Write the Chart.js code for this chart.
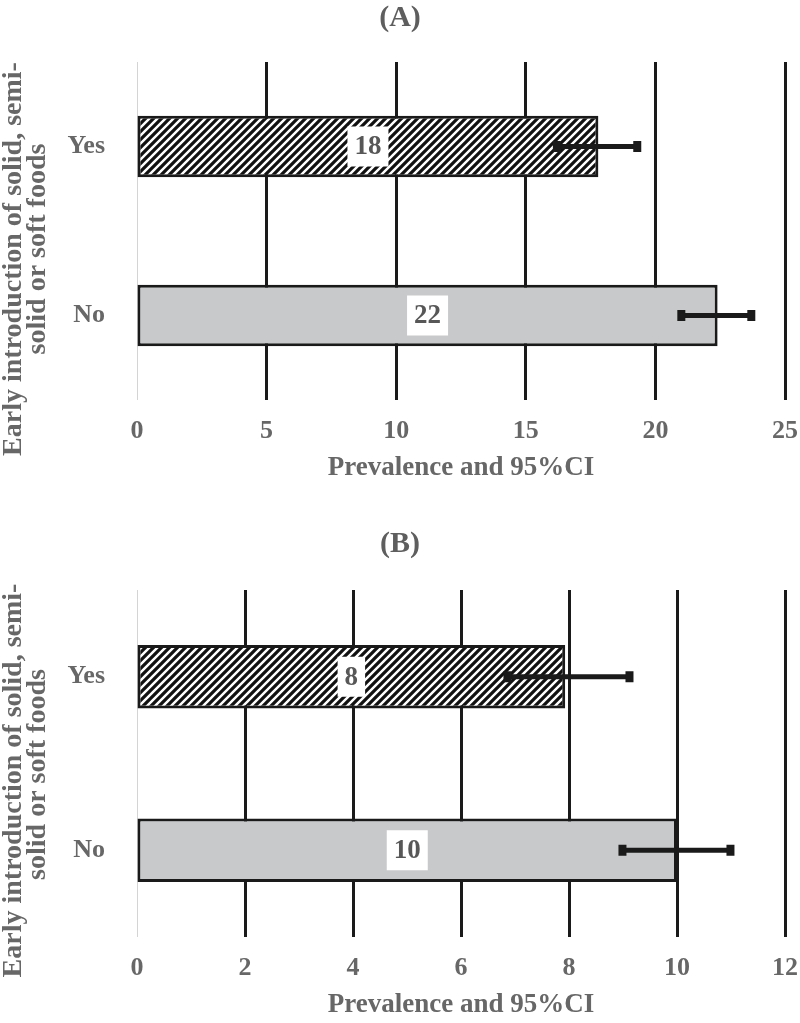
<!DOCTYPE html>
<html><head><meta charset="utf-8">
<script src="https://cdn.jsdelivr.net/npm/chart.js@4.4.0/dist/chart.umd.min.js"></script>
<style>
html,body{margin:0;padding:0;background:#fff;}
#wrap{position:relative;width:800px;height:1023px;overflow:hidden;}
.box{position:absolute;left:0;width:800px;}
</style></head><body>
<div id="wrap">
<div class="box" style="top:0;height:505px"><canvas id="cA"></canvas></div>
<div class="box" style="top:505px;height:518px"><canvas id="cB"></canvas></div>
</div>
<script>
// ---- data ----
const categories = ['Yes', 'No'];
const yAxisTitle = ['Early introduction of solid, semi-', 'solid or soft foods'];
const xAxisTitle = 'Prevalence and 95%CI';

const titleA = '(A)';
const prevalenceA = [17.8, 22.4];
const lowerA = [16.2, 21.0];
const upperA = [19.3, 23.7];
const labelsA = ['18', '22'];
const xTicksA = [0, 5, 10, 15, 20, 25];

const titleB = '(B)';
const prevalenceB = [7.93, 10.0];
const lowerB = [6.86, 8.99];
const upperB = [9.12, 10.99];
const labelsB = ['8', '10'];
const xTicksB = [0, 2, 4, 6, 8, 10, 12];

// ---- styling ----
const SERIF = "'Liberation Serif', 'Times New Roman', serif";
const TXT = '#676767';
const INK = '#1a1a1a';

function makeHatch() {
  const s = 8, c = document.createElement('canvas');
  c.width = s; c.height = s;
  const g = c.getContext('2d');
  g.fillStyle = '#fff'; g.fillRect(0, 0, s, s);
  g.strokeStyle = '#111'; g.lineWidth = 3.2; g.lineCap = 'square';
  g.beginPath();
  g.moveTo(0, s); g.lineTo(s, 0);
  g.moveTo(-2, 2); g.lineTo(2, -2);
  g.moveTo(s - 2, s + 2); g.lineTo(s + 2, s - 2);
  g.stroke();
  return g.createPattern(c, 'repeat');
}

const extrasPlugin = {
  id: 'extras',
  afterDatasetsDraw(chart, args, opts) {
    const ctx = chart.ctx;
    const xs = chart.scales.x;
    const meta = chart.getDatasetMeta(0);
    // data labels
    meta.data.forEach((bar, i) => {
      const cx = (bar.base + bar.x) / 2;
      const cy = bar.y;
      ctx.save();
      ctx.font = 'bold 27px ' + SERIF;
      const w = ctx.measureText(opts.labels[i]).width + 14;
      const h = 40;
      ctx.fillStyle = '#ffffff';
      ctx.fillRect(cx - w / 2, cy - h / 2, w, h);
      ctx.fillStyle = '#575757';
      ctx.textAlign = 'center';
      ctx.textBaseline = 'middle';
      ctx.fillText(opts.labels[i], cx, cy + 1);
      ctx.restore();
    });
    // error bars
    meta.data.forEach((bar, i) => {
      const y = bar.y;
      const x1 = xs.getPixelForValue(opts.lower[i]);
      const x2 = xs.getPixelForValue(opts.upper[i]);
      ctx.save();
      ctx.strokeStyle = INK;
      ctx.fillStyle = INK;
      ctx.lineWidth = 5;
      ctx.beginPath();
      ctx.moveTo(x1, y); ctx.lineTo(x2, y);
      ctx.stroke();
      ctx.fillRect(x1 - 4, y - 5.5, 8, 11);
      ctx.fillRect(x2 - 4, y - 5.5, 8, 11);
      ctx.restore();
    });
  },
  afterDraw(chart, args, opts) {
    const ctx = chart.ctx;
    const ca = chart.chartArea;
    const mid = (ca.top + ca.bottom) / 2;
    ctx.save();
    ctx.font = 'bold 28px ' + SERIF;
    ctx.fillStyle = TXT;
    ctx.textAlign = 'center';
    ctx.textBaseline = 'middle';
    opts.yTitle.forEach((line, k) => {
      ctx.save();
      ctx.translate(opts.yTitleX[k], mid + opts.yTitleOffset[k]);
      ctx.rotate(-Math.PI / 2);
      ctx.fillText(line, 0, 0);
      ctx.restore();
    });
    ctx.restore();
  }
};

function buildChart(id, cfg) {
  const ticks = cfg.ticks;
  return new Chart(document.getElementById(id), {
    type: 'bar',
    data: {
      labels: categories,
      datasets: [{
        data: cfg.values,
        backgroundColor: [makeHatch(), '#c8c9cb'],
        borderColor: INK,
        borderWidth: 3,
        borderSkipped: false,
        barPercentage: 0.365,
        categoryPercentage: 1
      }]
    },
    options: {
      indexAxis: 'y',
      responsive: true,
      maintainAspectRatio: false,
      animation: false,
      layout: { padding: { left: 0, right: 0, top: 0, bottom: cfg.padBottom } },
      plugins: {
        legend: { display: false },
        tooltip: { enabled: false },
        title: {
          display: true,
          text: cfg.title,
          color: '#5e5e5e',
          font: { family: SERIF, size: 30, weight: 'bold', lineHeight: 1.2 },
          padding: { top: cfg.titleTop, bottom: cfg.titleBottom }
        },
        extras: {
          labels: cfg.labels, lower: cfg.lower, upper: cfg.upper,
          yTitle: yAxisTitle, yTitleX: [14, 38], yTitleOffset: cfg.yTitleOffset
        }
      },
      scales: {
        x: {
          type: 'linear',
          min: ticks[0],
          max: ticks[ticks.length - 1],
          ticks: {
            stepSize: ticks[1] - ticks[0],
            color: TXT,
            padding: 16,
            font: { family: SERIF, size: 26, weight: 'bold', lineHeight: 1.2 }
          },
          grid: {
            drawTicks: false,
            color: c => (c.tick && c.tick.value === 0) ? '#d4d4d4' : INK,
            lineWidth: c => (c.tick && c.tick.value === 0) ? 1 : 3
          },
          border: { display: false },
          title: {
            display: true,
            text: xAxisTitle,
            color: TXT,
            font: { family: SERIF, size: 27, weight: 'bold', lineHeight: 1.2 },
            padding: { top: 4, bottom: 2 }
          },
          afterFit: s => { s.height = 86; s.paddingRight = 15; }
        },
        y: {
          ticks: {
            color: TXT,
            padding: 24,
            font: { family: SERIF, size: 26, weight: 'bold' }
          },
          grid: { display: false },
          border: { display: false },
          afterFit: s => { s.width = 137; }
        }
      }
    },
    plugins: [extrasPlugin]
  });
}

buildChart('cA', {
  title: titleA, values: prevalenceA, lower: lowerA, upper: upperA, labels: labelsA,
  ticks: xTicksA, titleTop: 0, titleBottom: 26, padBottom: 19, yTitleOffset: [28, 18]
});
buildChart('cB', {
  title: titleB, values: prevalenceB, lower: lowerB, upper: upperB, labels: labelsB,
  ticks: xTicksB, titleTop: 21, titleBottom: 28, padBottom: 0, yTitleOffset: [17, 11]
});
</script>
</body></html>
